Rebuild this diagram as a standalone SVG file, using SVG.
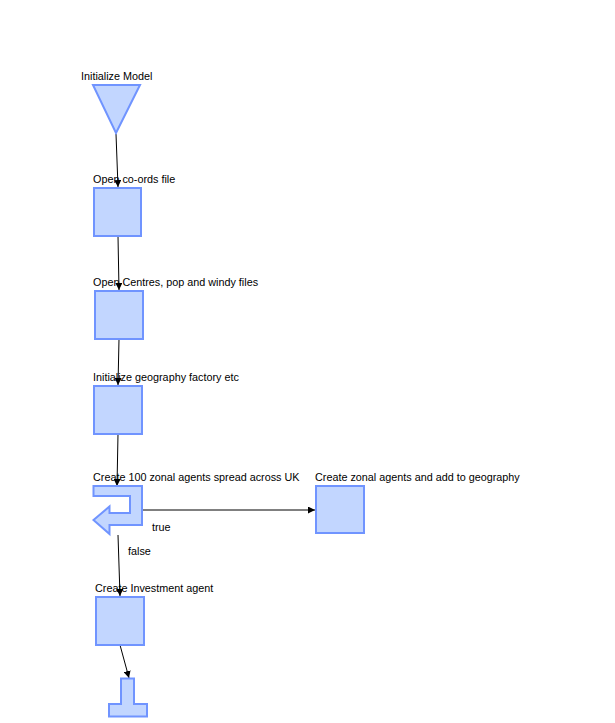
<svg xmlns="http://www.w3.org/2000/svg" width="615" height="723" viewBox="0 0 615 723">
<style>
.n{fill:#c2d6ff;stroke:#7094ff;stroke-width:2}
.t{font-family:"Liberation Sans",Arial,sans-serif;font-size:10.8px;fill:#000}
.c{stroke:#000;stroke-width:1;fill:none;marker-end:url(#a)}
</style>
<defs>
<marker id="a" viewBox="0 0 8 8" refX="8" refY="4" markerWidth="7" markerHeight="7" markerUnits="userSpaceOnUse" orient="auto">
<path d="M0,0 L8,4 L0,8 z" fill="#000"/>
</marker>
</defs>
<rect width="615" height="723" fill="#fff"/>
<g id="connectors">
<path class="c" d="M116,134 L118,187"/>
<path class="c" d="M118,236 L119,290"/>
<path class="c" d="M119,339 L118,385"/>
<path class="c" d="M118,434 L117,486"/>
<path class="c" d="M142,510 L315,510"/>
<path class="c" d="M118,535 L120,596"/>
<path class="c" d="M120,645 L129,678"/>
<text class="t" x="152" y="531">true</text>
<text class="t" x="128" y="555">false</text>
</g>
<g id="start">
<path class="n" d="M93,85 L140,85 L116,133 z"/>
<text class="t" x="81" y="80">Initialize Model</text>
</g>
<g id="open-coords">
<rect class="n" x="94" y="188" width="47" height="48"/>
<text class="t" x="93" y="183">Open co-ords file</text>
</g>
<g id="open-centres">
<rect class="n" x="95" y="291" width="48" height="48"/>
<text class="t" x="93" y="286">Open Centres, pop and windy files</text>
</g>
<g id="init-geo">
<rect class="n" x="94" y="386" width="48" height="48"/>
<text class="t" x="93" y="381">Initialize geography factory etc</text>
</g>
<g id="loop">
<path class="n" d="M93.5,486 L142,486 L142,525 L109.5,525 L109.5,534 L93.5,520 L109.5,506.5 L109.5,513 L130,513 L130,496 L93.5,496 z"/>
<text class="t" x="93" y="481">Create 100 zonal agents spread across UK</text>
</g>
<g id="create-zonal">
<rect class="n" x="316" y="486" width="48" height="47"/>
<text class="t" x="315" y="481">Create zonal agents and add to geography</text>
</g>
<g id="create-investment">
<rect class="n" x="96" y="597" width="48" height="48"/>
<text class="t" x="95" y="592">Create Investment agent</text>
</g>
<g id="end">
<path class="n" d="M121,678.5 L134,678.5 L134,704 L147,704 L147,716.5 L109,716.5 L109,704 L121,704 z"/>
</g>
</svg>
